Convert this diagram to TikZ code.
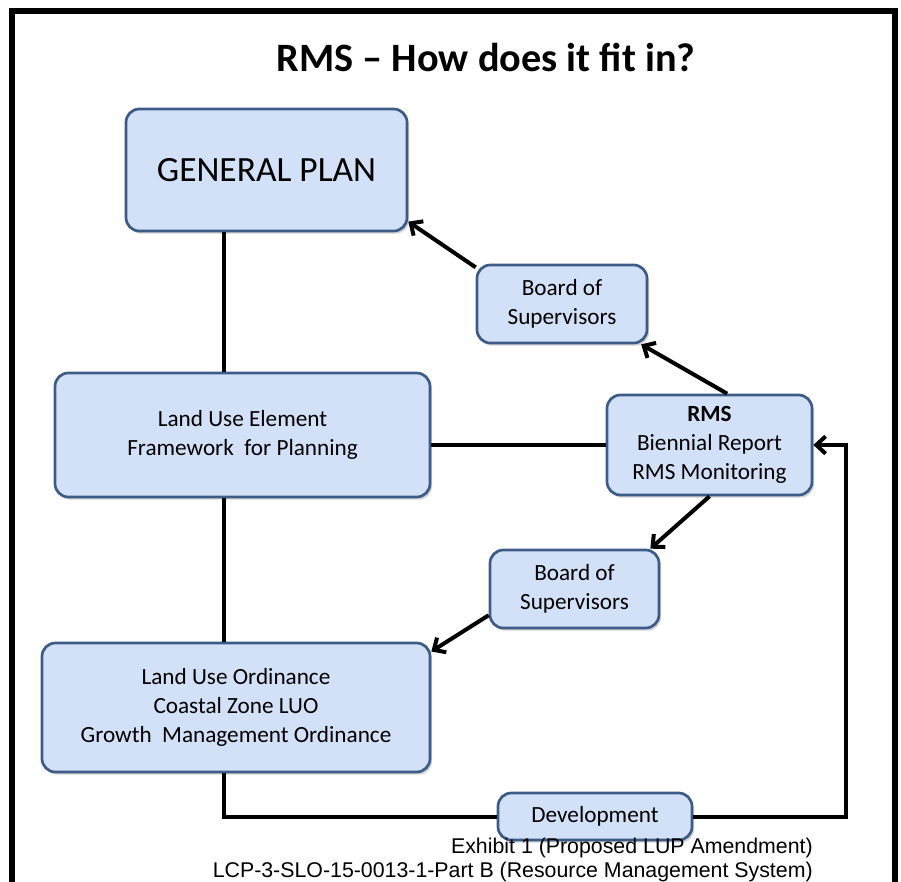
\documentclass[tikz,border=0pt]{standalone}
\usepackage{fontspec}
\setmainfont{Carlito}
\newfontfamily\footfont{Liberation Sans}
\usetikzlibrary{arrows.meta,shadows}

\definecolor{boxfill}{RGB}{210,225,247}
\definecolor{boxline}{RGB}{60,92,135}

\tikzset{
  planbox/.style={draw=boxline, line width=2pt, fill=boxfill, rounded corners=10pt,
    align=center, inner sep=0pt,
    drop shadow={shadow xshift=1.5pt, shadow yshift=-2pt, opacity=0.35},
    font=\fontsize{17.4}{21.5}\selectfont},
  link/.style={line width=3pt},
  flow/.style={link, -{Straight Barb[length=7pt,width=13pt]}},
}

\begin{document}
\begin{tikzpicture}[x=0.75pt,y=0.75pt,yscale=-1,xscale=1]
\useasboundingbox (0,0) rectangle (901,882);

%Frame
\draw [line width=4.5pt] (12,900) -- (12,10.5) -- (894.5,10.5) -- (894.5,900) ;

% Title
\node [font=\bfseries\fontsize{30.2}{36}\selectfont] (title) at (486,57) {RMS -- How does it fit in?};

%Shape: boxes
\node [planbox, minimum width=210.75pt, minimum height=91.5pt, font=\fontsize{26.6}{32}\selectfont] (genplan) at (266.5,170) {GENERAL PLAN};
\node [planbox, minimum width=127.5pt, minimum height=58.5pt] (boardup) at (562,304) {Board of\\Supervisors};
\node [planbox, minimum width=281.25pt, minimum height=93pt] (lue) at (242.5,435) {Land Use Element\\Framework\ \ for Planning};
\node [planbox, minimum width=153.75pt, minimum height=75pt] (rms) at (709.5,445) {\textbf{RMS}\\Biennial Report\\RMS Monitoring};
\node [planbox, minimum width=126.75pt, minimum height=58.5pt] (boarddown) at (574.5,589) {Board of\\Supervisors};
\node [planbox, minimum width=291pt, minimum height=96.75pt] (luo) at (236,707.5) {Land Use Ordinance\\Coastal Zone LUO\\Growth\ \ Management Ordinance};
\node [planbox, minimum width=145.5pt, minimum height=35.25pt] (dev) at (595,816.5) {Development};

\coordinate (spine) at (224,0);
\coordinate (loop) at (846,0);

%Straight Lines
\draw [link] (genplan.south -| spine) -- (lue.north -| spine) ;
\draw [link] (lue.south -| spine) -- (luo.north -| spine) ;
\draw [link] (lue.east |- rms.west) -- (rms.west) ;
\draw [link] (luo.south -| spine) |- (dev.west) ;
\draw [flow] (dev.east) -| (loop |- rms.east) -- (rms.east) ;
\draw [flow] (rms.71) -- (boardup.-27.5) ;
\draw [flow] (boardup.157) -- (genplan.-20.5) ;
\draw [flow] (rms.south) -- (boarddown.28) ;
\draw [flow] (boarddown.197) -- (luo.16.5) ;

% Text Node
\node [anchor=base east, inner sep=0pt, font=\footfont\fontsize{16}{18}\selectfont] (exhibit) at (813,853) {Exhibit 1 (Proposed LUP Amendment)};
% Text Node
\node [anchor=base east, inner sep=0pt, font=\footfont\fontsize{16}{18}\selectfont] (lcp) at (813,877) {LCP-3-SLO-15-0013-1-Part B (Resource Management System)};

\end{tikzpicture}
\end{document}
